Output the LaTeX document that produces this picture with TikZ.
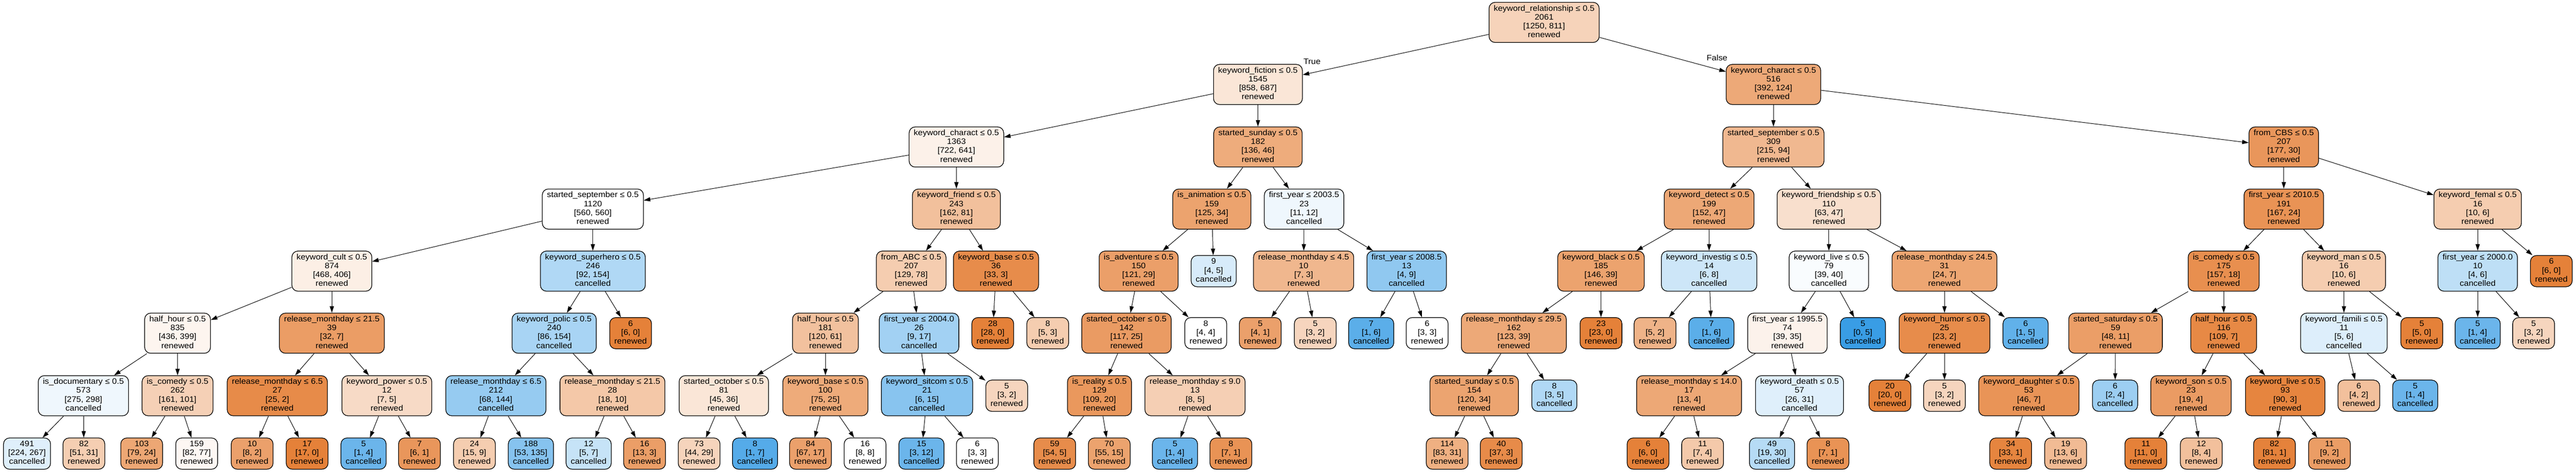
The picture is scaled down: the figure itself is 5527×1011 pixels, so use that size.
\documentclass[tikz,border=0pt]{standalone}
\usepackage{fontspec}
\setmainfont{Liberation Sans}[FakeStretch=1.07]
\usetikzlibrary{arrows.meta}
\definecolor{rn}{RGB}{229,129,57}
\definecolor{cn}{RGB}{57,157,229}
\newcommand\nf{\fontsize{17}{19}\selectfont}
\newcommand\NdI[4]{\strut #1\\\strut #2\\\strut #3\\\strut #4}
\newcommand\NdL[3]{\strut #1\\\strut #2\\\strut #3}
\begin{document}
\begin{tikzpicture}[x=1pt,y=-1pt,
  base/.style={draw=black,line width=1.4pt,rounded corners=13pt,align=center,inner xsep=10pt,inner ysep=3pt,font=\nf},
  int/.style={base,minimum height=86pt},
  lf/.style={base,minimum height=67pt},
  edge/.style={line width=1.1pt,-{Triangle[length=14pt,width=9pt]}},
  lbl/.style={font=\nf,inner sep=1pt}]
\useasboundingbox (0,0) rectangle (5527,1011);
% level 0
\node[int,fill=rn!35] (A) at (3313,48) {\NdI{keyword\_relationship ≤ 0.5}{2061}{[1250, 811]}{renewed}};
% level 1
\node[int,fill=rn!20] (B) at (2699,181) {\NdI{keyword\_fiction ≤ 0.5}{1545}{[858, 687]}{renewed}};
\node[int,fill=rn!68] (BA) at (3805,181) {\NdI{keyword\_charact ≤ 0.5}{516}{[392, 124]}{renewed}};
% level 2
\node[int,fill=rn!11] (C) at (2052,315) {\NdI{keyword\_charact ≤ 0.5}{1363}{[722, 641]}{renewed}};
\node[int,fill=rn!66] (X) at (2699,315) {\NdI{started\_sunday ≤ 0.5}{182}{[136, 46]}{renewed}};
\node[int,fill=rn!56] (BB) at (3805,315) {\NdI{started\_september ≤ 0.5}{309}{[215, 94]}{renewed}};
\node[int,fill=rn!83] (CA) at (4900,315) {\NdI{from\_CBS ≤ 0.5}{207}{[177, 30]}{renewed}};
% level 3
\node[int,fill=white] (D) at (1272,448) {\NdI{started\_september ≤ 0.5}{1120}{[560, 560]}{renewed}};
\node[int,fill=rn!50] (P) at (2052,448) {\NdI{keyword\_friend ≤ 0.5}{243}{[162, 81]}{renewed}};
\node[int,fill=rn!73] (Y) at (2600,448) {\NdI{is\_animation ≤ 0.5}{159}{[125, 34]}{renewed}};
\node[int,fill=cn!8] (AD) at (2798,448) {\NdI{first\_year ≤ 2003.5}{23}{[11, 12]}{cancelled}};
\node[int,fill=rn!69] (BC) at (3667,448) {\NdI{keyword\_detect ≤ 0.5}{199}{[152, 47]}{renewed}};
\node[int,fill=rn!25] (BH) at (3924,448) {\NdI{keyword\_friendship ≤ 0.5}{110}{[63, 47]}{renewed}};
\node[int,fill=rn!86] (CB) at (4900,448) {\NdI{first\_year ≤ 2010.5}{191}{[167, 24]}{renewed}};
\node[int,fill=rn!40] (CK) at (5316,448) {\NdI{keyword\_femal ≤ 0.5}{16}{[10, 6]}{renewed}};
% level 4
\node[int,fill=rn!13] (E) at (712,581) {\NdI{keyword\_cult ≤ 0.5}{874}{[468, 406]}{renewed}};
\node[int,fill=cn!40] (L) at (1272,581) {\NdI{keyword\_superhero ≤ 0.5}{246}{[92, 154]}{cancelled}};
\node[int,fill=rn!40] (Q) at (1955,581) {\NdI{from\_ABC ≤ 0.5}{207}{[129, 78]}{renewed}};
\node[int,fill=rn!91] (W) at (2137,581) {\NdI{keyword\_base ≤ 0.5}{36}{[33, 3]}{renewed}};
\node[int,fill=rn!76] (Z) at (2443,581) {\NdI{is\_adventure ≤ 0.5}{150}{[121, 29]}{renewed}};
\node[lf,fill=cn!20] (y1) at (2604,581) {\NdL{9}{[4, 5]}{cancelled}};
\node[int,fill=rn!57] (AE) at (2797,581) {\NdI{release\_monthday ≤ 4.5}{10}{[7, 3]}{renewed}};
\node[int,fill=cn!56] (AF) at (3018,581) {\NdI{first\_year ≤ 2008.5}{13}{[4, 9]}{cancelled}};
\node[int,fill=rn!73] (BD) at (3435,581) {\NdI{keyword\_black ≤ 0.5}{185}{[146, 39]}{renewed}};
\node[int,fill=cn!25] (BG) at (3667,581) {\NdI{keyword\_investig ≤ 0.5}{14}{[6, 8]}{cancelled}};
\node[int,fill=cn!3] (BI) at (3924,581) {\NdI{keyword\_live ≤ 0.5}{79}{[39, 40]}{cancelled}};
\node[int,fill=rn!71] (BM) at (4172,581) {\NdI{release\_monthday ≤ 24.5}{31}{[24, 7]}{renewed}};
\node[int,fill=rn!89] (CC) at (4771,581) {\NdI{is\_comedy ≤ 0.5}{175}{[157, 18]}{renewed}};
\node[int,fill=rn!40] (CI) at (5029,581) {\NdI{keyword\_man ≤ 0.5}{16}{[10, 6]}{renewed}};
\node[int,fill=cn!33] (CL) at (5316,581) {\NdI{first\_year ≤ 2000.0}{10}{[4, 6]}{cancelled}};
\node[lf,fill=rn!100] (ck1) at (5474,581) {\NdL{6}{[6, 0]}{renewed}};
% level 5
\node[int,fill=rn!8] (F) at (381,714) {\NdI{half\_hour ≤ 0.5}{835}{[436, 399]}{renewed}};
\node[int,fill=rn!78] (I) at (712,714) {\NdI{release\_monthday ≤ 21.5}{39}{[32, 7]}{renewed}};
\node[int,fill=cn!44] (M) at (1189,714) {\NdI{keyword\_polic ≤ 0.5}{240}{[86, 154]}{cancelled}};
\node[lf,fill=rn!100] (l1) at (1353,714) {\NdL{6}{[6, 0]}{renewed}};
\node[int,fill=rn!49] (R) at (1771,714) {\NdI{half\_hour ≤ 0.5}{181}{[120, 61]}{renewed}};
\node[int,fill=cn!47] (U) at (1972,714) {\NdI{first\_year ≤ 2004.0}{26}{[9, 17]}{cancelled}};
\node[lf,fill=rn!100] (w1) at (2130,714) {\NdL{28}{[28, 0]}{renewed}};
\node[lf,fill=rn!40] (w2) at (2248,714) {\NdL{8}{[5, 3]}{renewed}};
\node[int,fill=rn!79] (AA) at (2417,714) {\NdI{started\_october ≤ 0.5}{142}{[117, 25]}{renewed}};
\node[lf,fill=white] (z1) at (2587,714) {\NdL{8}{[4, 4]}{renewed}};
\node[lf,fill=rn!75] (ae1) at (2704,714) {\NdL{5}{[4, 1]}{renewed}};
\node[lf,fill=rn!33] (ae2) at (2822,714) {\NdL{5}{[3, 2]}{renewed}};
\node[lf,fill=cn!83] (af1) at (2942,714) {\NdL{7}{[1, 6]}{cancelled}};
\node[lf,fill=white] (af2) at (3062,714) {\NdL{6}{[3, 3]}{renewed}};
\node[int,fill=rn!68] (BE) at (3248,714) {\NdI{release\_monthday ≤ 29.5}{162}{[123, 39]}{renewed}};
\node[lf,fill=rn!100] (bd1) at (3435,714) {\NdL{23}{[23, 0]}{renewed}};
\node[lf,fill=rn!60] (bg1) at (3551,714) {\NdL{7}{[5, 2]}{renewed}};
\node[lf,fill=cn!83] (bg2) at (3672,714) {\NdL{7}{[1, 6]}{cancelled}};
\node[int,fill=rn!10] (BJ) at (3835,714) {\NdI{first\_year ≤ 1995.5}{74}{[39, 35]}{renewed}};
\node[lf,fill=cn!100] (bi1) at (3997,714) {\NdL{5}{[0, 5]}{cancelled}};
\node[int,fill=rn!91] (BN) at (4172,714) {\NdI{keyword\_humor ≤ 0.5}{25}{[23, 2]}{renewed}};
\node[lf,fill=cn!80] (bm1) at (4346,714) {\NdL{6}{[1, 5]}{cancelled}};
\node[int,fill=rn!77] (CD) at (4539,714) {\NdI{started\_saturday ≤ 0.5}{59}{[48, 11]}{renewed}};
\node[int,fill=rn!94] (CF) at (4771,714) {\NdI{half\_hour ≤ 0.5}{116}{[109, 7]}{renewed}};
\node[int,fill=cn!17] (CJ) at (5029,714) {\NdI{keyword\_famili ≤ 0.5}{11}{[5, 6]}{cancelled}};
\node[lf,fill=rn!100] (ci1) at (5196,714) {\NdL{5}{[5, 0]}{renewed}};
\node[lf,fill=cn!75] (cl1) at (5316,714) {\NdL{5}{[1, 4]}{cancelled}};
\node[lf,fill=rn!33] (cl2) at (5436,714) {\NdL{5}{[3, 2]}{renewed}};
% level 6
\node[int,fill=cn!8] (G) at (179,848) {\NdI{is\_documentary ≤ 0.5}{573}{[275, 298]}{cancelled}};
\node[int,fill=rn!37] (H) at (381,848) {\NdI{is\_comedy ≤ 0.5}{262}{[161, 101]}{renewed}};
\node[int,fill=rn!92] (J) at (595,848) {\NdI{release\_monthday ≤ 6.5}{27}{[25, 2]}{renewed}};
\node[int,fill=rn!29] (K) at (830,848) {\NdI{keyword\_power ≤ 0.5}{12}{[7, 5]}{renewed}};
\node[int,fill=cn!53] (N) at (1064,848) {\NdI{release\_monthday ≤ 6.5}{212}{[68, 144]}{cancelled}};
\node[int,fill=rn!44] (O) at (1314,848) {\NdI{release\_monthday ≤ 21.5}{28}{[18, 10]}{renewed}};
\node[int,fill=rn!20] (S) at (1553,848) {\NdI{started\_october ≤ 0.5}{81}{[45, 36]}{renewed}};
\node[int,fill=rn!67] (T) at (1771,848) {\NdI{keyword\_base ≤ 0.5}{100}{[75, 25]}{renewed}};
\node[int,fill=cn!60] (V) at (1989,848) {\NdI{keyword\_sitcom ≤ 0.5}{21}{[6, 15]}{cancelled}};
\node[lf,fill=rn!33] (u1) at (2160,848) {\NdL{5}{[3, 2]}{renewed}};
\node[int,fill=rn!82] (AB) at (2359,848) {\NdI{is\_reality ≤ 0.5}{129}{[109, 20]}{renewed}};
\node[int,fill=rn!38] (AC) at (2564,848) {\NdI{release\_monthday ≤ 9.0}{13}{[8, 5]}{renewed}};
\node[int,fill=rn!72] (BF) at (3163,848) {\NdI{started\_sunday ≤ 0.5}{154}{[120, 34]}{renewed}};
\node[lf,fill=cn!40] (be1) at (3335,848) {\NdL{8}{[3, 5]}{cancelled}};
\node[int,fill=rn!69] (BK) at (3624,848) {\NdI{release\_monthday ≤ 14.0}{17}{[13, 4]}{renewed}};
\node[int,fill=cn!16] (BL) at (3861,848) {\NdI{keyword\_death ≤ 0.5}{57}{[26, 31]}{cancelled}};
\node[lf,fill=rn!100] (bn1) at (4055,848) {\NdL{20}{[20, 0]}{renewed}};
\node[lf,fill=rn!33] (bn2) at (4172,848) {\NdL{5}{[3, 2]}{renewed}};
\node[int,fill=rn!85] (CE) at (4353,848) {\NdI{keyword\_daughter ≤ 0.5}{53}{[46, 7]}{renewed}};
\node[lf,fill=cn!50] (cd1) at (4538,848) {\NdL{6}{[2, 4]}{cancelled}};
\node[int,fill=rn!79] (CG) at (4701,848) {\NdI{keyword\_son ≤ 0.5}{23}{[19, 4]}{renewed}};
\node[int,fill=rn!97] (CH) at (4903,848) {\NdI{keyword\_live ≤ 0.5}{93}{[90, 3]}{renewed}};
\node[lf,fill=rn!50] (cj1) at (5061,848) {\NdL{6}{[4, 2]}{renewed}};
\node[lf,fill=cn!75] (cj2) at (5182,848) {\NdL{5}{[1, 4]}{cancelled}};
% level 7
\node[lf,fill=cn!16] (g1) at (58,972) {\NdL{491}{[224, 267]}{cancelled}};
\node[lf,fill=rn!39] (g2) at (180,972) {\NdL{82}{[51, 31]}{renewed}};
\node[lf,fill=rn!70] (h1) at (304,972) {\NdL{103}{[79, 24]}{renewed}};
\node[lf,fill=rn!6] (h2) at (422,972) {\NdL{159}{[82, 77]}{renewed}};
\node[lf,fill=rn!75] (j1) at (541,972) {\NdL{10}{[8, 2]}{renewed}};
\node[lf,fill=rn!100] (j2) at (659,972) {\NdL{17}{[17, 0]}{renewed}};
\node[lf,fill=cn!75] (k1) at (780,972) {\NdL{5}{[1, 4]}{cancelled}};
\node[lf,fill=rn!83] (k2) at (900,972) {\NdL{7}{[6, 1]}{renewed}};
\node[lf,fill=rn!40] (nn1) at (1018,972) {\NdL{24}{[15, 9]}{renewed}};
\node[lf,fill=cn!61] (nn2) at (1139,972) {\NdL{188}{[53, 135]}{cancelled}};
\node[lf,fill=cn!29] (o1) at (1263,972) {\NdL{12}{[5, 7]}{cancelled}};
\node[lf,fill=rn!77] (o2) at (1383,972) {\NdL{16}{[13, 3]}{renewed}};
\node[lf,fill=rn!34] (s1) at (1500,972) {\NdL{73}{[44, 29]}{renewed}};
\node[lf,fill=cn!86] (s2) at (1620,972) {\NdL{8}{[1, 7]}{cancelled}};
\node[lf,fill=rn!75] (t1) at (1739,972) {\NdL{84}{[67, 17]}{renewed}};
\node[lf,fill=white] (t2) at (1856,972) {\NdL{16}{[8, 8]}{renewed}};
\node[lf,fill=cn!75] (v1) at (1977,972) {\NdL{15}{[3, 12]}{cancelled}};
\node[lf,fill=white] (v2) at (2097,972) {\NdL{6}{[3, 3]}{renewed}};
\node[lf,fill=rn!91] (ab1) at (2263,972) {\NdL{59}{[54, 5]}{renewed}};
\node[lf,fill=rn!73] (ab2) at (2380,972) {\NdL{70}{[55, 15]}{renewed}};
\node[lf,fill=cn!75] (ac1) at (2521,972) {\NdL{5}{[1, 4]}{cancelled}};
\node[lf,fill=rn!86] (ac2) at (2641,972) {\NdL{8}{[7, 1]}{renewed}};
\node[lf,fill=rn!63] (bf1) at (3105,972) {\NdL{114}{[83, 31]}{renewed}};
\node[lf,fill=rn!92] (bf2) at (3221,972) {\NdL{40}{[37, 3]}{renewed}};
\node[lf,fill=rn!100] (bk1) at (3536,972) {\NdL{6}{[6, 0]}{renewed}};
\node[lf,fill=rn!43] (bk2) at (3653,972) {\NdL{11}{[7, 4]}{renewed}};
\node[lf,fill=cn!37] (bl1) at (3802,972) {\NdL{49}{[19, 30]}{cancelled}};
\node[lf,fill=rn!86] (bl2) at (3922,972) {\NdL{8}{[7, 1]}{renewed}};
\node[lf,fill=rn!97] (ce1) at (4314,972) {\NdL{34}{[33, 1]}{renewed}};
\node[lf,fill=rn!54] (ce2) at (4432,972) {\NdL{19}{[13, 6]}{renewed}};
\node[lf,fill=rn!100] (cg1) at (4604,972) {\NdL{11}{[11, 0]}{renewed}};
\node[lf,fill=rn!50] (cg2) at (4723,972) {\NdL{12}{[8, 4]}{renewed}};
\node[lf,fill=rn!99] (ch1) at (4880,972) {\NdL{82}{[81, 1]}{renewed}};
\node[lf,fill=rn!78] (ch2) at (4998,972) {\NdL{11}{[9, 2]}{renewed}};
% edges
\foreach \a/\b in {A/B,A/BA,B/C,B/X,C/D,C/P,D/E,D/L,E/F,E/I,F/G,F/H,G/g1,G/g2,H/h1,H/h2,
  I/J,I/K,J/j1,J/j2,K/k1,K/k2,L/M,L/l1,M/N,M/O,N/nn1,N/nn2,O/o1,O/o2,
  P/Q,P/W,Q/R,Q/U,R/S,R/T,S/s1,S/s2,T/t1,T/t2,U/V,U/u1,V/v1,V/v2,W/w1,W/w2,
  X/Y,X/AD,Y/Z,Y/y1,Z/AA,Z/z1,AA/AB,AA/AC,AB/ab1,AB/ab2,AC/ac1,AC/ac2,
  AD/AE,AD/AF,AE/ae1,AE/ae2,AF/af1,AF/af2,
  BA/BB,BA/CA,BB/BC,BB/BH,BC/BD,BC/BG,BD/BE,BD/bd1,BE/BF,BE/be1,BF/bf1,BF/bf2,
  BG/bg1,BG/bg2,BH/BI,BH/BM,BI/BJ,BI/bi1,BJ/BK,BJ/BL,BK/bk1,BK/bk2,BL/bl1,BL/bl2,
  BM/BN,BM/bm1,BN/bn1,BN/bn2,
  CA/CB,CA/CK,CB/CC,CB/CI,CC/CD,CC/CF,CD/CE,CD/cd1,CE/ce1,CE/ce2,CF/CG,CF/CH,
  CG/cg1,CG/cg2,CH/ch1,CH/ch2,CI/CJ,CI/ci1,CJ/cj1,CJ/cj2,CK/CL,CK/ck1,CL/cl1,CL/cl2}
  \draw[edge] (\a) -- (\b);
\node[lbl] (tlab) at (2815,132) {True};
\node[lbl] (flab) at (3684,124) {False};
\end{tikzpicture}
\end{document}
